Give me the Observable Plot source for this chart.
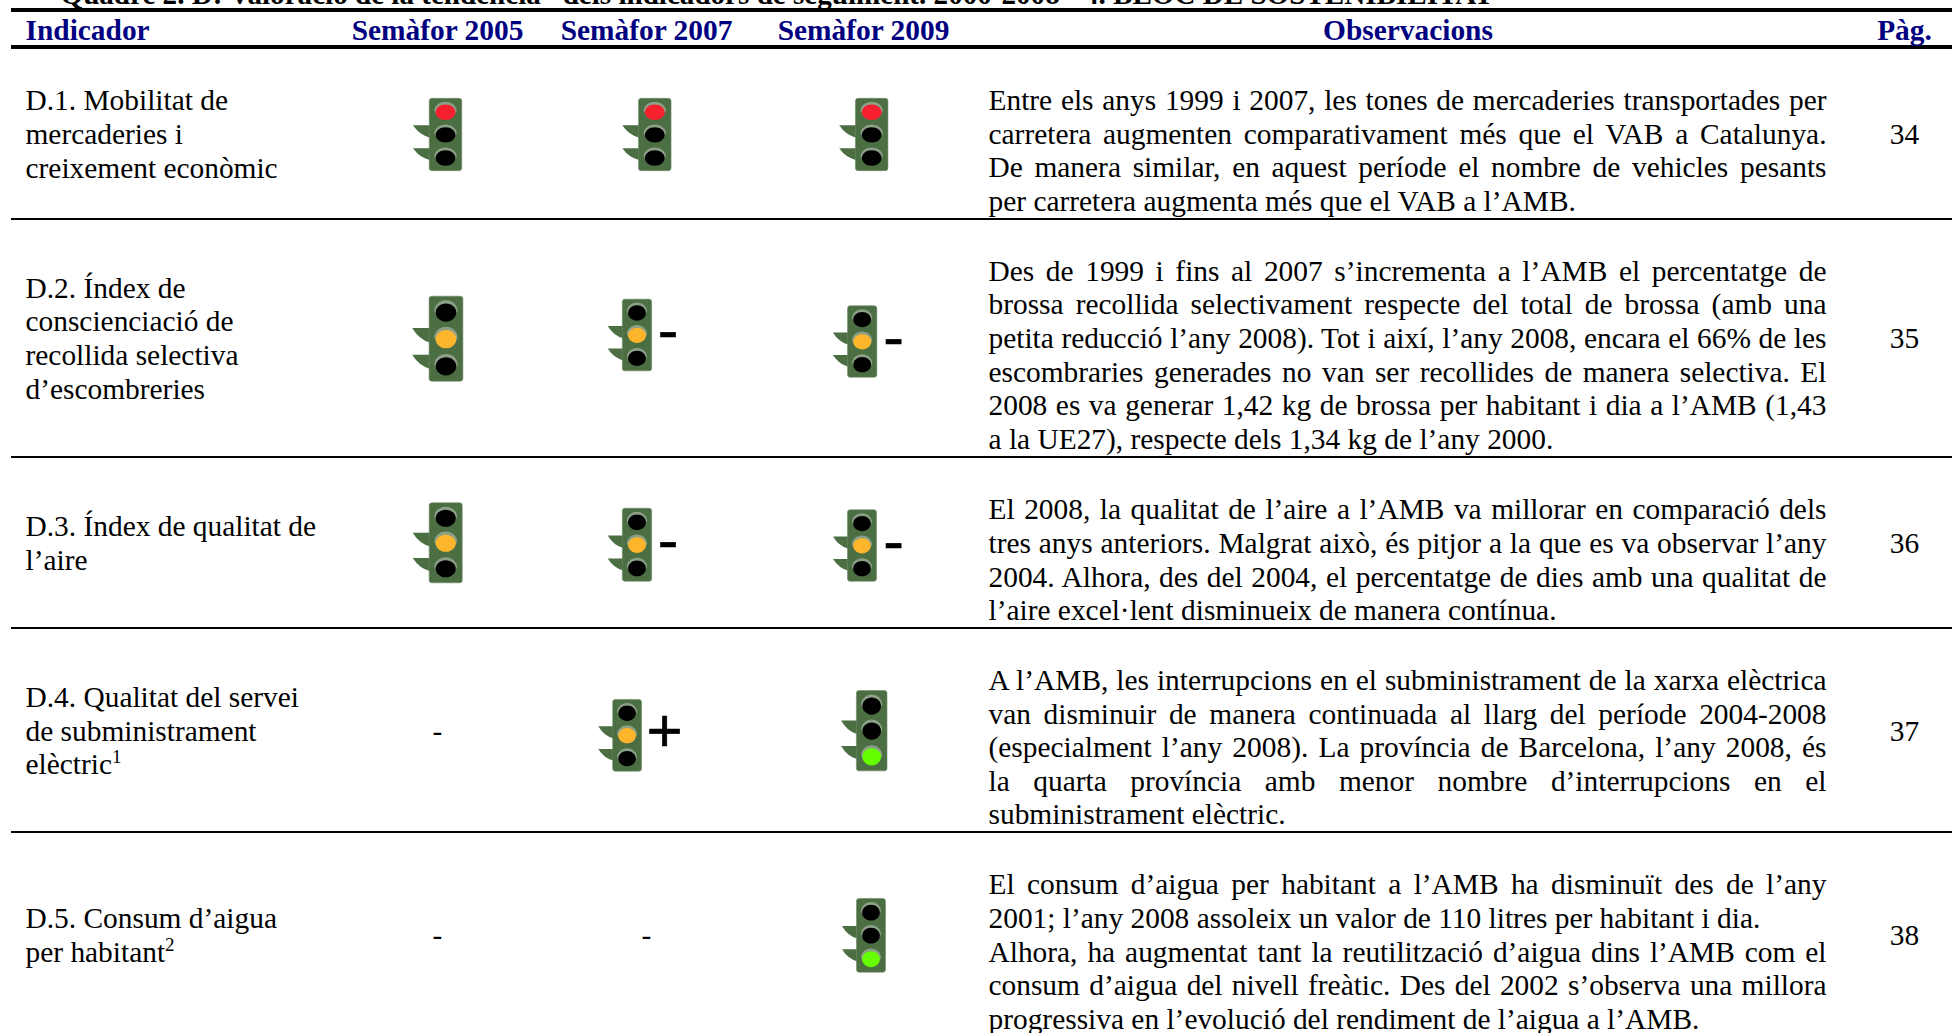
<!DOCTYPE html>
<html lang="ca">
<head>
<meta charset="utf-8">
<title>Quadre 2. D</title>
<style>html,body{margin:0;padding:0;background:#fff}svg{display:block}</style>
<script src="https://cdn.jsdelivr.net/npm/d3@7"></script>
<script src="https://cdn.jsdelivr.net/npm/@observablehq/plot@0.6"></script>
</head>
<body>
<script>
// ---------- Data ----------
const titleText = "Quadre 2. D: Valoració de la tendència *dels indicadors de seguiment. 2000-2008 - 4. BLOC DE SOSTENIBILITAT";
const headers = ["Indicador", "Semàfor 2005", "Semàfor 2007", "Semàfor 2009", "Observacions", "Pàg."];
const rows = ["D.1", "D.2", "D.3", "D.4", "D.5"];
const indicatorLabels = [
  "D.1. Mobilitat de\nmercaderies i\ncreixement econòmic",
  "D.2. Índex de\nconscienciació de\nrecollida selectiva\nd’escombreries",
  "D.3. Índex de qualitat de\nl’aire",
  "D.4. Qualitat del servei\nde subministrament\nelèctric¹",
  "D.5. Consum d’aigua\nper habitant²"
];
const observations = [
  ["Entre els anys 1999 i 2007, les tones de mercaderies transportades per",
   "carretera augmenten comparativament més que el VAB a Catalunya.",
   "De manera similar, en aquest període el nombre de vehicles pesants",
   "per carretera augmenta més que el VAB a l’AMB."],
  ["Des de 1999 i fins al 2007 s’incrementa a l’AMB el percentatge de",
   "brossa recollida selectivament respecte del total de brossa (amb una",
   "petita reducció l’any 2008). Tot i així, l’any 2008, encara el 66% de les",
   "escombraries generades no van ser recollides de manera selectiva. El",
   "2008 es va generar 1,42 kg de brossa per habitant i dia a l’AMB (1,43",
   "a la UE27), respecte dels 1,34 kg de l’any 2000."],
  ["El 2008, la qualitat de l’aire a l’AMB va millorar en comparació dels",
   "tres anys anteriors. Malgrat això, és pitjor a la que es va observar l’any",
   "2004. Alhora, des del 2004, el percentatge de dies amb una qualitat de",
   "l’aire excel·lent disminueix de manera contínua."],
  ["A l’AMB, les interrupcions en el subministrament de la xarxa elèctrica",
   "van disminuir de manera continuada al llarg del període 2004-2008",
   "(especialment l’any 2008). La província de Barcelona, l’any 2008, és",
   "la quarta província amb menor nombre d’interrupcions en el",
   "subministrament elèctric."],
  ["El consum d’aigua per habitant a l’AMB ha disminuït des de l’any",
   "2001; l’any 2008 assoleix un valor de 110 litres per habitant i dia.",
   "Alhora, ha augmentat tant la reutilització d’aigua dins l’AMB com el",
   "consum d’aigua del nivell freàtic. Des del 2002 s’observa una millora",
   "progressiva en l’evolució del rendiment de l’aigua a l’AMB."]
];
const paragraphEnds = [[3], [5], [3], [4], [1, 4]];
const pages = [34, 35, 36, 37, 38];
const semafor2005 = ["vermell", "groc", "groc", null, null];
const semafor2007 = ["vermell", "groc", "groc", "groc", null];
const semafor2009 = ["vermell", "groc", "groc", "verd", "verd"];
const tendencia2007 = ["", "-", "-", "+", ""];
const tendencia2009 = ["", "-", "-", "", ""];

// ---------- Layout (separate from the data) ----------
const xStops = ["ruleStart", "Indicador", "Semàfor 2005", "Semàfor 2007", "Semàfor 2009", "ObsLeft", "Observacions", "Pàg.", "ruleEnd"];
const xPixels = [11, 25, 437, 646, 863, 988, 1407.5, 1904, 1952];
const yStops = ["title", "topRule", "header", "headRule", "D.1", "sep1", "D.2", "sep2", "D.3", "sep3", "D.4", "sep4", "D.5"];
const yPixels = [3, 9.5, 39, 46.5, 134.8, 218.5, 339, 456.5, 544, 627.5, 731.5, 831.5, 935.8];
const bodySize = 29.4, headSize = 29.4, titleSize = 29.1, lineStep = 33.6, obsWidth = 838, obsDrop = 16.5, textNudge = -2;
const serif = "Liberation Serif";
// per light: [dx, dy, width, height]
const lightLayout = {
  "D.1|Semàfor 2005": [8, -.8, 32.5, 72.3],
  "D.1|Semàfor 2007": [8.3, -.8, 32.5, 72.3],
  "D.1|Semàfor 2009": [8.2, -.8, 32.5, 72.3],
  "D.2|Semàfor 2005": [8.5, -.8, 33.8, 85],
  "D.2|Semàfor 2007": [-9.5, -4.5, 29.3, 71.7],
  "D.2|Semàfor 2009": [-1.3, 2, 29.3, 71.4],
  "D.3|Semàfor 2005": [8.2, -1.7, 33, 80],
  "D.3|Semàfor 2007": [-9.5, .2, 29.3, 73],
  "D.3|Semàfor 2009": [-1.5, 1, 29, 71.4],
  "D.4|Semàfor 2007": [-19.4, 3.3, 28.8, 71.7],
  "D.4|Semàfor 2009": [8.2, -1.3, 30.6, 80.3],
  "D.5|Semàfor 2009": [7.5, -1, 29, 73.7]
};
const trendLayout = {
  "D.2|Semàfor 2007|-": [21.7, -8], "D.2|Semàfor 2009|-": [30, -1],
  "D.3|Semàfor 2007|-": [21.7, -3], "D.3|Semàfor 2009|-": [30, -2],
  "D.4|Semàfor 2007|+": [18, -1]
};

// ---------- Helpers ----------
const X = k => xStops.indexOf(k);
const Y = k => yStops.indexOf(k);
function ellipse(c, x, y, rx, ry) {
  const k = .5523;
  c.moveTo(x - rx, y);
  c.bezierCurveTo(x - rx, y - k * ry, x - k * rx, y - ry, x, y - ry);
  c.bezierCurveTo(x + k * rx, y - ry, x + rx, y - k * ry, x + rx, y);
  c.bezierCurveTo(x + rx, y + k * ry, x + k * rx, y + ry, x, y + ry);
  c.bezierCurveTo(x - k * rx, y + ry, x - rx, y + k * ry, x - rx, y);
  c.closePath();
}
const lampAt = [-.307, .005, .325];
const wingSymbol = (w, h) => ({draw(c) {
  const l = -w / 2;
  for (const [a, b] of [[-.127, .045], [.19, .355]]) {
    const tip = l - w * .5;
    c.moveTo(l + 1, a * h); c.lineTo(tip, a * h);
    c.quadraticCurveTo(tip + w * .2, b * h - h * .035, l + 1, b * h); c.closePath();
  }
}});
const bodySymbol = (w, h) => ({draw(c) {
  const r = 2.6, l = -w / 2, t = -h / 2, R = w / 2, B = h / 2;
  c.moveTo(l + r, t); c.lineTo(R - r, t); c.quadraticCurveTo(R, t, R, t + r);
  c.lineTo(R, B - r); c.quadraticCurveTo(R, B, R - r, B);
  c.lineTo(l + r, B); c.quadraticCurveTo(l, B, l, B - r);
  c.lineTo(l, t + r); c.quadraticCurveTo(l, t, l + r, t); c.closePath();
}});
const rimSymbol = (w, h) => ({draw(c) {
  const rx = w * .345, ry = h * .125;
  for (const f of lampAt) {
    const y = f * h - h * .02;
    c.moveTo(-rx, y);
    c.bezierCurveTo(-rx, y - .55 * ry, -.55 * rx, y - ry, 0, y - ry);
    c.bezierCurveTo(.55 * rx, y - ry, rx, y - .55 * ry, rx, y);
    c.lineTo(rx * .85, y + ry * .35); c.lineTo(-rx * .85, y + ry * .35); c.closePath();
  }
}});
const lampSymbol = (w, h, i) => ({draw(c) { ellipse(c, 0, lampAt[i] * h, w * .305, h * .107); }});

const lampNames = ["vermell", "groc", "verd"];
const semafors = [[headers[1], semafor2005], [headers[2], semafor2007], [headers[3], semafor2009]];
const cells = semafors.flatMap(([col, states]) => states.map((state, i) => ({col, row: rows[i], state})));
const lights = cells.filter(d => d.state);
const dashes = cells.filter(d => !d.state);
const trends = [[headers[2], tendencia2007], [headers[3], tendencia2009]]
  .flatMap(([col, vals]) => vals.map((t, i) => ({col, row: rows[i], t}))).filter(d => d.t);

const lightMarks = lights.flatMap(d => {
  const [dx, dy, w, h] = lightLayout[d.row + "|" + d.col];
  const base = {x: e => X(e.col), y: e => Y(e.row), dx, dy, r: 1};
  return [
    Plot.dot([d], {...base, symbol: wingSymbol(w, h), fill: "#4b6e43"}),
    Plot.dot([d], {...base, symbol: bodySymbol(w, h), fill: "#4b6e43", stroke: "#6f8a68", strokeWidth: .6}),
    Plot.dot([d], {...base, symbol: rimSymbol(w, h), fill: "#8ca088"}),
    ...lampNames.map((name, i) => Plot.dot([d], {...base, symbol: lampSymbol(w, h, i),
      fill: e => e.state === name ? name : "apagat"}))
  ];
});

const tableRows = rows.map((row, i) => ({row, label: indicatorLabels[i], obs: observations[i].join("\n"), page: String(pages[i])}));
const bodyText = {lineAnchor: "middle", lineHeight: lineStep / bodySize, fontFamily: serif, fontSize: bodySize, fill: "#000"};
const headText = {y: () => Y("header"), text: d => d, lineAnchor: "bottom", fontFamily: serif, fontWeight: "bold", fontSize: headSize, fill: "#000080"};

const svg = Plot.plot({
  width: 1952, height: 1033,
  marginTop: 0, marginRight: 0, marginBottom: 0, marginLeft: 0,
  style: {background: "#fff"},
  x: {type: "linear", axis: null, domain: xStops.map((_, i) => i), range: xPixels},
  y: {type: "linear", axis: null, domain: yStops.map((_, i) => i), range: yPixels},
  color: {domain: ["apagat", ...lampNames], range: ["#000000", "#f7202e", "#fdb52b", "#66ff00"]},
  marks: [
    Plot.text([titleText], {x: () => X("Indicador"), y: () => Y("title"), dx: 35, text: d => d, textAnchor: "start",
      lineAnchor: "bottom", fontFamily: serif, fontWeight: "bold", fontSize: titleSize, fill: "#000"}),
    Plot.ruleY(["topRule", "headRule"], {y: Y, x1: () => X("ruleStart"), x2: () => X("ruleEnd"), stroke: "#000", strokeWidth: 4}),
    Plot.ruleY(["sep1", "sep2", "sep3", "sep4"], {y: Y, x1: () => X("ruleStart"), x2: () => X("ruleEnd"), stroke: "#000", strokeWidth: 2}),
    Plot.text(headers.slice(0, 1), {...headText, x: X, textAnchor: "start"}),
    Plot.text(headers.slice(1), {...headText, x: X, textAnchor: "middle"}),
    Plot.text(tableRows, {...bodyText, x: () => X("Indicador"), y: d => Y(d.row), dy: textNudge, text: "label", textAnchor: "start"}),
    Plot.text(tableRows, {...bodyText, x: () => X("ObsLeft"), y: d => Y(d.row), dy: obsDrop + textNudge, text: "obs", textAnchor: "start"}),
    Plot.text(tableRows, {...bodyText, x: () => X("Pàg."), y: d => Y(d.row), dy: textNudge, text: "page", textAnchor: "middle"}),
    Plot.text(dashes, {...bodyText, x: d => X(d.col), y: d => Y(d.row), dy: textNudge, text: () => "-", textAnchor: "middle"}),
    ...lightMarks,
    ...trends.map(d => {
      const [dx, dy] = trendLayout[d.row + "|" + d.col + "|" + d.t];
      return Plot.text([d], {x: e => X(e.col), y: e => Y(e.row), dx, dy, text: "t", textAnchor: "middle",
        lineAnchor: "middle", fontFamily: "Liberation Sans", fontSize: 62, fill: "#000", stroke: "#000", strokeWidth: .6});
    })
  ]
});
document.body.appendChild(svg);

// Justify the observation lines, as in the source table
const allLines = [...svg.querySelectorAll("text tspan")];
observations.forEach((lines, i) => lines.forEach((line, j) => {
  if (paragraphEnds[i].includes(j)) return;
  const s = allLines.find(e => e.textContent === line);
  if (!s) return;
  const spaces = (line.match(/ /g) || []).length;
  s.setAttribute("word-spacing", (obsWidth - s.getComputedTextLength()) / spaces);
}));

// Footnote marks as real raised superscripts
const superscripts = {"¹": "1", "²": "2"};
allLines.forEach(s => {
  const m = s.textContent.match(/^(.*)([¹²])$/);
  if (!m) return;
  s.textContent = m[1];
  const sup = document.createElementNS("http://www.w3.org/2000/svg", "tspan");
  sup.setAttribute("font-size", 19);
  sup.setAttribute("dy", -11);
  sup.textContent = superscripts[m[2]];
  s.appendChild(sup);
});
</script>
</body>
</html>
